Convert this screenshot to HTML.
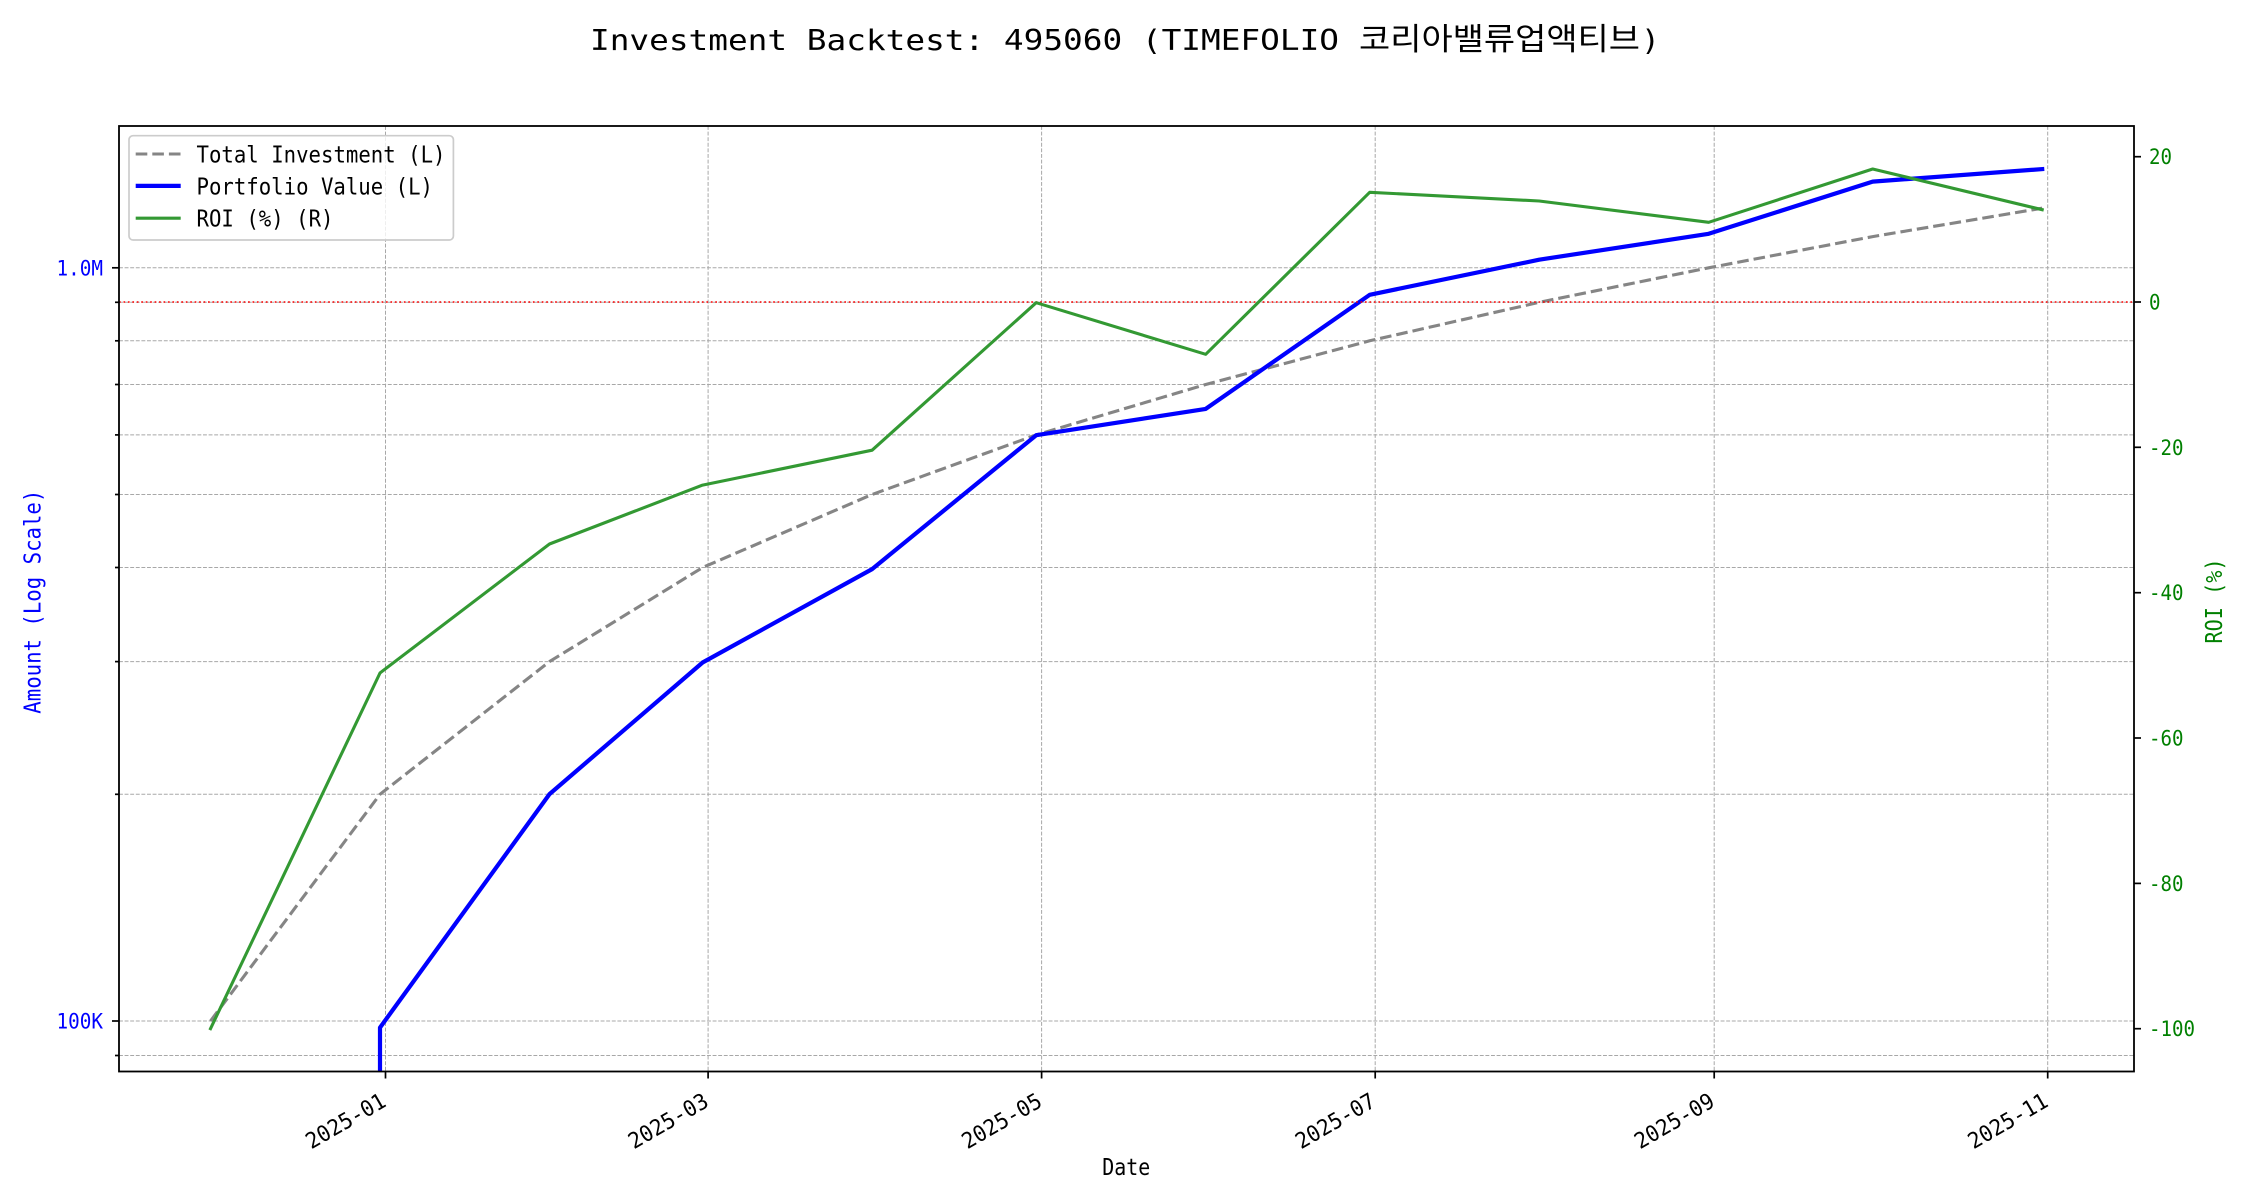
<!DOCTYPE html>
<html><head><meta charset="utf-8"><style>
html,body{margin:0;padding:0;background:#fff;}
svg{display:block;}
text{font-family:"DejaVu Sans Mono","Liberation Mono",monospace;}
</style></head><body>
<svg width="2250" height="1200" viewBox="0 0 2250 1200" xmlns="http://www.w3.org/2000/svg">
<defs><clipPath id="ax"><rect x="119" y="126" width="2015" height="945.5"/></clipPath></defs>
<rect width="2250" height="1200" fill="#fff"/>
<!-- title -->
<text x="590" y="50" font-size="28.5" fill="#000" textLength="749" lengthAdjust="spacingAndGlyphs">Investment Backtest: 495060 (TIMEFOLIO</text>
<text x="1359" y="50" font-size="31" fill="#000" style="font-family:'Noto Sans CJK KR','Noto Sans CJK JP',sans-serif" textLength="281" lengthAdjust="spacingAndGlyphs">코리아밸류업액티브</text>
<text x="1641" y="50" font-size="28.5" fill="#000" textLength="19" lengthAdjust="spacingAndGlyphs">)</text>

<!-- grid -->
<g stroke="#a8a8a8" stroke-width="1" stroke-dasharray="3.9 1.7" fill="none">
<line x1="385.5" y1="126" x2="385.5" y2="1071.5"/>
<line x1="708.1" y1="126" x2="708.1" y2="1071.5"/>
<line x1="1041.6" y1="126" x2="1041.6" y2="1071.5"/>
<line x1="1375.2" y1="126" x2="1375.2" y2="1071.5"/>
<line x1="1714.2" y1="126" x2="1714.2" y2="1071.5"/>
<line x1="2047.7" y1="126" x2="2047.7" y2="1071.5"/>
<line x1="119" y1="1055.5" x2="2134" y2="1055.5"/>
<line x1="119" y1="1021" x2="2134" y2="1021"/>
<line x1="119" y1="794.3" x2="2134" y2="794.3"/>
<line x1="119" y1="661.6" x2="2134" y2="661.6"/>
<line x1="119" y1="567.5" x2="2134" y2="567.5"/>
<line x1="119" y1="494.5" x2="2134" y2="494.5"/>
<line x1="119" y1="434.9" x2="2134" y2="434.9"/>
<line x1="119" y1="384.5" x2="2134" y2="384.5"/>
<line x1="119" y1="340.8" x2="2134" y2="340.8"/>
<line x1="119" y1="302.3" x2="2134" y2="302.3"/>
<line x1="119" y1="267.8" x2="2134" y2="267.8"/>
</g>

<g clip-path="url(#ax)" fill="none" stroke-linejoin="round">
<!-- total investment -->
<polyline stroke="#858585" stroke-width="3.1" stroke-dasharray="11.6 5" points="210.5,1021 380.0,794.3 549.5,661.6 702.6,567.5 872.1,494.5 1036.2,434.9 1205.7,384.5 1369.7,340.8 1539.2,302.3 1708.7,267.8 1872.7,236.6 2042.2,208.2"/>
<!-- portfolio -->
<polyline stroke="#0000ff" stroke-width="4.2" stroke-linecap="square" points="380.0,1090 380.0,1027.6 549.5,794.1 702.6,662.5 872.1,569.1 1036.2,435.2 1205.7,408.9 1369.7,294.8 1539.2,259.7 1708.7,233.8 1872.7,181.6 2042.2,169.1"/>
<!-- zero line -->
<line x1="119" y1="302" x2="2134" y2="302" stroke="#ff0000" stroke-opacity="0.85" stroke-width="1.7" stroke-dasharray="1.7 2.75"/>
<!-- ROI -->
<polyline stroke="#339933" stroke-width="3.1" stroke-linecap="square" points="210.5,1028.7 380.0,673.0 549.5,544.0 702.6,485.1 872.1,450.2 1036.2,302.7 1205.7,354.3 1369.7,192.3 1539.2,201.0 1708.7,222.3 1872.7,169.0 2042.2,209.7"/>
</g>

<!-- spines -->
<rect x="119" y="126" width="2015" height="945.5" fill="none" stroke="#000" stroke-width="1.8"/>

<!-- left ticks -->
<g stroke="#000" stroke-width="1.7">
<line x1="112" y1="267.8" x2="119" y2="267.8"/>
<line x1="112" y1="1021" x2="119" y2="1021"/>
<line x1="115" y1="1055.5" x2="119" y2="1055.5"/>
<line x1="115" y1="794.3" x2="119" y2="794.3"/>
<line x1="115" y1="661.6" x2="119" y2="661.6"/>
<line x1="115" y1="567.5" x2="119" y2="567.5"/>
<line x1="115" y1="494.5" x2="119" y2="494.5"/>
<line x1="115" y1="434.9" x2="119" y2="434.9"/>
<line x1="115" y1="384.5" x2="119" y2="384.5"/>
<line x1="115" y1="340.8" x2="119" y2="340.8"/>
<line x1="115" y1="302.3" x2="119" y2="302.3"/>
<!-- right ticks -->
<line x1="2134" y1="156.7" x2="2141" y2="156.7"/>
<line x1="2134" y1="302" x2="2141" y2="302"/>
<line x1="2134" y1="447.3" x2="2141" y2="447.3"/>
<line x1="2134" y1="592.7" x2="2141" y2="592.7"/>
<line x1="2134" y1="738" x2="2141" y2="738"/>
<line x1="2134" y1="883.4" x2="2141" y2="883.4"/>
<line x1="2134" y1="1028.7" x2="2141" y2="1028.7"/>
<!-- x ticks -->
<line x1="385.5" y1="1071.5" x2="385.5" y2="1078.5"/>
<line x1="708.1" y1="1071.5" x2="708.1" y2="1078.5"/>
<line x1="1041.6" y1="1071.5" x2="1041.6" y2="1078.5"/>
<line x1="1375.2" y1="1071.5" x2="1375.2" y2="1078.5"/>
<line x1="1714.2" y1="1071.5" x2="1714.2" y2="1078.5"/>
<line x1="2047.7" y1="1071.5" x2="2047.7" y2="1078.5"/>
</g>

<!-- left tick labels -->
<g fill="#0000ff" font-size="21" text-anchor="end">
<text x="103" y="275.5" textLength="46.5" lengthAdjust="spacingAndGlyphs">1.0M</text>
<text x="103" y="1028.7" textLength="46.5" lengthAdjust="spacingAndGlyphs">100K</text>
</g>
<!-- right tick labels -->
<g fill="#008000" font-size="21">
<text x="2149" y="164.2" textLength="23" lengthAdjust="spacingAndGlyphs">20</text>
<text x="2149" y="309.5" textLength="11.5" lengthAdjust="spacingAndGlyphs">0</text>
<text x="2149" y="454.8" textLength="34.5" lengthAdjust="spacingAndGlyphs">-20</text>
<text x="2149" y="600.2" textLength="34.5" lengthAdjust="spacingAndGlyphs">-40</text>
<text x="2149" y="745.5" textLength="34.5" lengthAdjust="spacingAndGlyphs">-60</text>
<text x="2149" y="890.9" textLength="34.5" lengthAdjust="spacingAndGlyphs">-80</text>
<text x="2149" y="1036.2" textLength="46" lengthAdjust="spacingAndGlyphs">-100</text>
</g>
<!-- x tick labels -->
<g fill="#000" font-size="22" text-anchor="end">
<text x="387.5" y="1105.5" transform="rotate(-30 387.5 1105.5)" textLength="88" lengthAdjust="spacingAndGlyphs">2025-01</text>
<text x="710.1" y="1105.5" transform="rotate(-30 710.1 1105.5)" textLength="88" lengthAdjust="spacingAndGlyphs">2025-03</text>
<text x="1043.6" y="1105.5" transform="rotate(-30 1043.6 1105.5)" textLength="88" lengthAdjust="spacingAndGlyphs">2025-05</text>
<text x="1377.2" y="1105.5" transform="rotate(-30 1377.2 1105.5)" textLength="88" lengthAdjust="spacingAndGlyphs">2025-07</text>
<text x="1716.2" y="1105.5" transform="rotate(-30 1716.2 1105.5)" textLength="88" lengthAdjust="spacingAndGlyphs">2025-09</text>
<text x="2049.7" y="1105.5" transform="rotate(-30 2049.7 1105.5)" textLength="88" lengthAdjust="spacingAndGlyphs">2025-11</text>
</g>

<!-- axis labels -->
<text x="1126.3" y="1175" font-size="23" text-anchor="middle" fill="#000" textLength="48" lengthAdjust="spacingAndGlyphs">Date</text>
<text x="40.5" y="601.7" font-size="23" text-anchor="middle" fill="#0000ff" transform="rotate(-90 40.5 601.7)" textLength="224" lengthAdjust="spacingAndGlyphs">Amount (Log Scale)</text>
<text x="2222" y="601" font-size="23" text-anchor="middle" fill="#008000" transform="rotate(-90 2222 601)" textLength="85" lengthAdjust="spacingAndGlyphs">ROI (%)</text>

<!-- legend -->
<rect x="129" y="135.7" width="324.4" height="104.3" rx="4" ry="4" fill="#fff" fill-opacity="0.8" stroke="#cccccc" stroke-width="1.7"/>
<line x1="135.7" y1="154" x2="180.7" y2="154" stroke="#858585" stroke-width="3.1" stroke-dasharray="11.6 5"/>
<line x1="135.7" y1="185.9" x2="180.7" y2="185.9" stroke="#0000ff" stroke-width="4.2"/>
<line x1="135.7" y1="218.2" x2="180.7" y2="218.2" stroke="#339933" stroke-width="3.1"/>
<g fill="#000" font-size="23">
<text x="196.5" y="162.6" textLength="249" lengthAdjust="spacingAndGlyphs">Total Investment (L)</text>
<text x="196.5" y="194.4" textLength="236.5" lengthAdjust="spacingAndGlyphs">Portfolio Value (L)</text>
<text x="196.5" y="226.4" textLength="137" lengthAdjust="spacingAndGlyphs">ROI (%) (R)</text>
</g>
</svg>
</body></html>
